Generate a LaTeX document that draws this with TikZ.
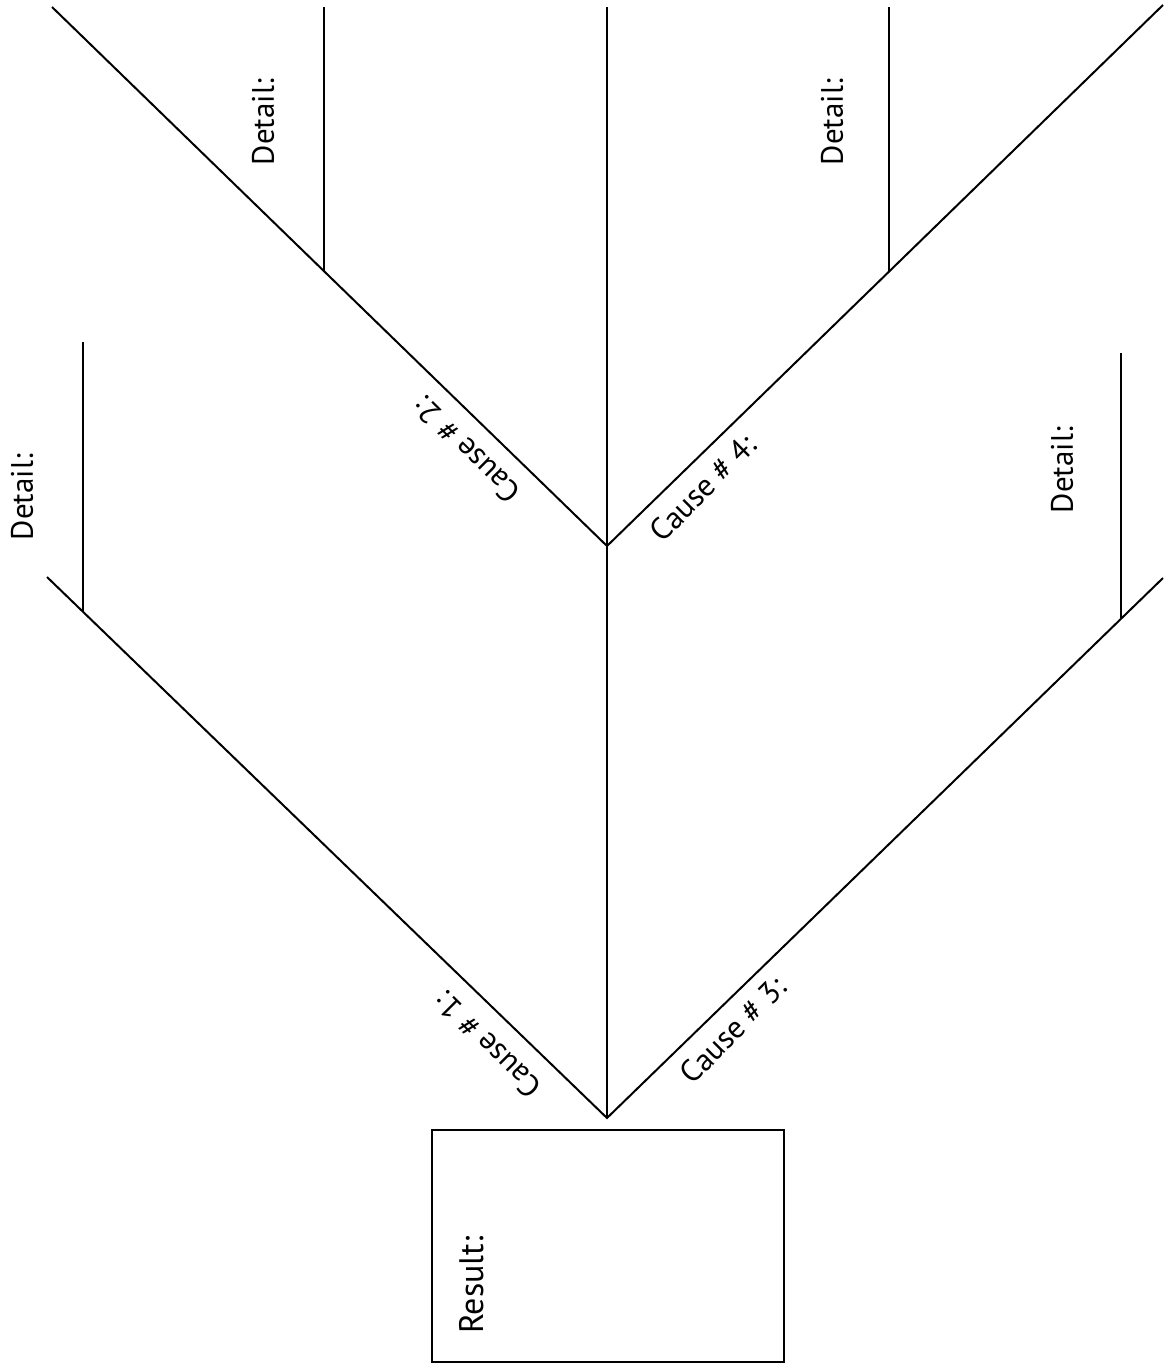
\documentclass[tikz,border=0pt]{standalone}
\usepackage{fontspec}
\setmainfont{PT Sans}
\begin{document}
\begin{tikzpicture}[x=1pt,y=-1pt,
  bone/.style={line width=2pt,line cap=butt},
  lbl/.style={font=\fontsize{31}{36}\selectfont,inner sep=0pt},
  rbox/.style={draw,line width=2.6pt,minimum width=352pt,minimum height=232pt,inner sep=0pt}]
\useasboundingbox (0,0) rectangle (1170,1363);
% coordinates
\coordinate (top) at (607,7);
\coordinate (v1) at (607,1118);
\coordinate (v2) at (607,546);
\coordinate (l1) at (47,577);
\coordinate (r1) at (1163,578);
\coordinate (l2) at (52,7);
\coordinate (r2) at (1163,5);
\coordinate (d1t) at (83,342);
\coordinate (d1b) at (83,611);
\coordinate (d2t) at (324,7);
\coordinate (d2b) at (324,271);
\coordinate (d4t) at (889,7);
\coordinate (d4b) at (889,272);
\coordinate (d3t) at (1121,353);
\coordinate (d3b) at (1121,619);
% spine and bones
\draw[bone] (top) -- (v1);
\draw[bone] (l1) -- (v1) -- (r1);
\draw[bone] (l2) -- (v2) -- (r2);
\draw[bone] (d1t) -- (d1b);
\draw[bone] (d2t) -- (d2b);
\draw[bone] (d4t) -- (d4b);
\draw[bone] (d3t) -- (d3b);
% result box
\node[rbox] (res) at (608,1246) {};
\node[lbl,rotate=90,font=\fontsize{34}{40}\selectfont] (restxt) at (472,1285) {Result:};
% labels
\node[lbl,rotate=90] (det1) at (22,497) {Detail:};
\node[lbl,rotate=90] (det2) at (263,122) {Detail:};
\node[lbl,rotate=90] (det4) at (832,122) {Detail:};
\node[lbl,rotate=90] (det3) at (1062,470) {Detail:};
\node[lbl,rotate=135] (c1) at (488,1045) {Cause \# 1:};
\node[lbl,rotate=135] (c2) at (467,450) {Cause \# 2:};
\node[lbl,rotate=45] (c3) at (733,1030) {Cause \# 3:};
\node[lbl,rotate=45] (c4) at (703,488) {Cause \# 4:};
\end{tikzpicture}
\end{document}
